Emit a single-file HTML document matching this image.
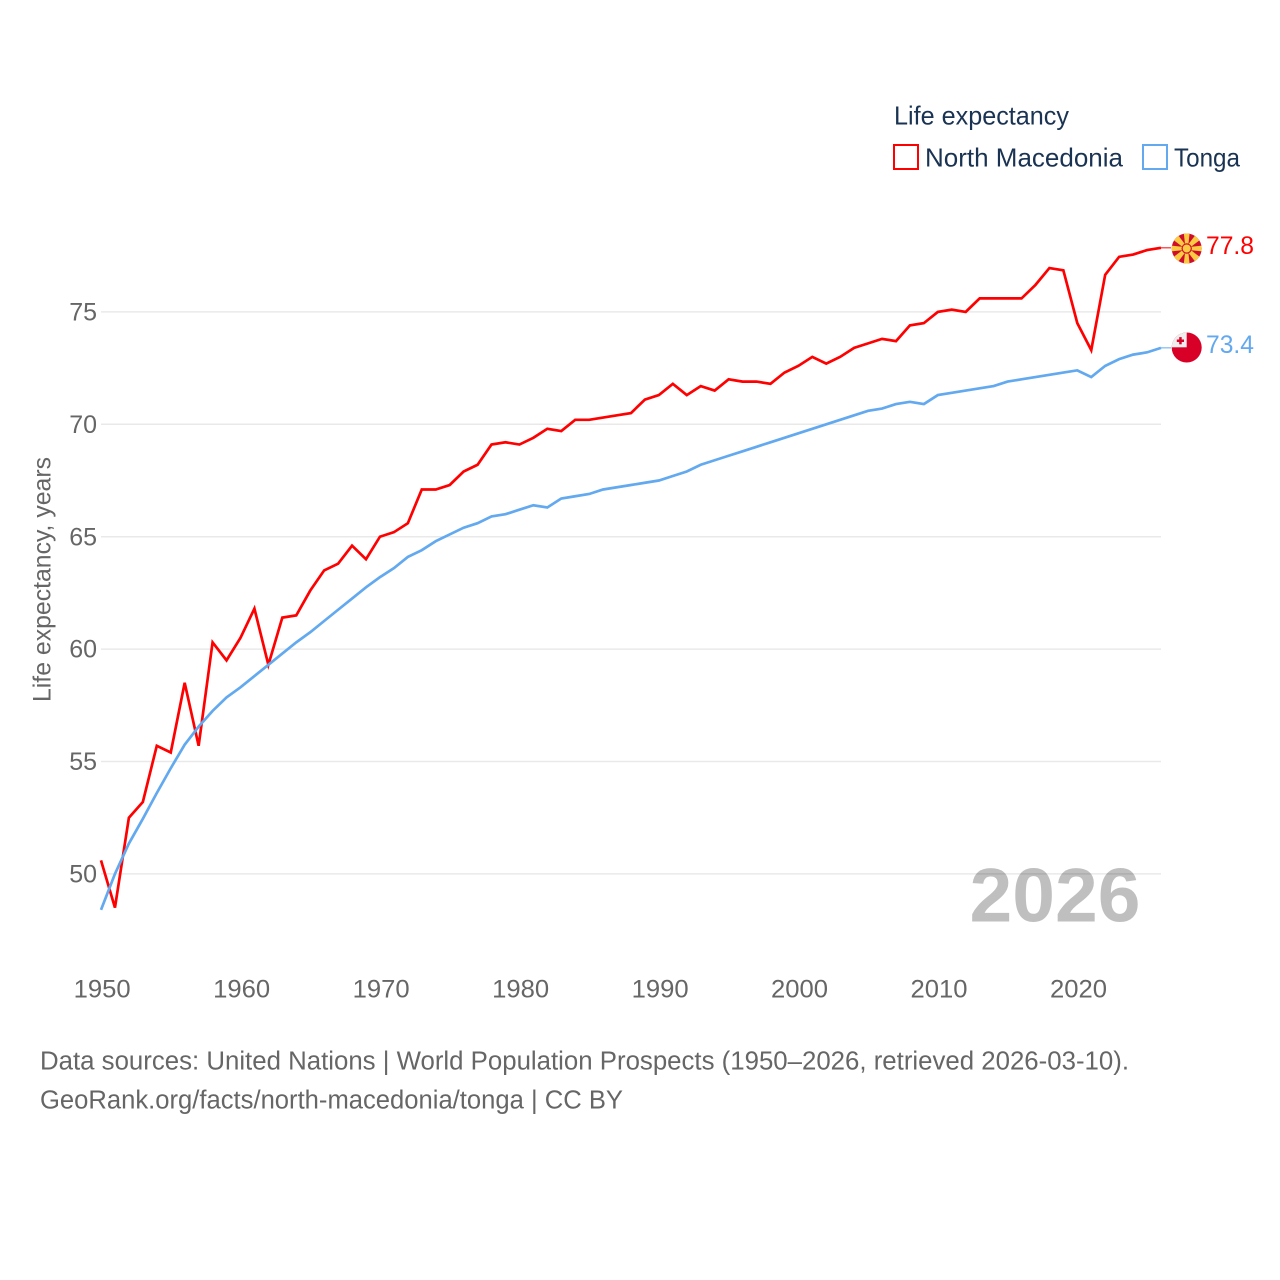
<!DOCTYPE html>
<html>
<head>
<meta charset="utf-8">
<title>Life expectancy: North Macedonia and Tonga</title>
<style>
html,body{margin:0;padding:0;background:#fff;}
svg{display:block;font-family:"Liberation Sans",sans-serif;}
</style>
</head>
<body>
<svg id="chart" xmlns="http://www.w3.org/2000/svg" width="1280" height="1280" viewBox="0 0 1280 1280">
  <rect width="1280" height="1280" fill="#fff"/>
  <g id="grid"></g>
  <g id="yticks"></g>
  <g id="xticks"></g>
  <text transform="translate(50.5,702) rotate(-90)" font-size="25" fill="#666" textLength="245" lengthAdjust="spacingAndGlyphs">Life expectancy, years</text>
  <g id="series"></g>
  <text x="969.5" y="921.5" font-size="76" font-weight="bold" fill="#000" fill-opacity="0.25" textLength="171" lengthAdjust="spacingAndGlyphs">2026</text>

  <g>
    <text x="894" y="124.5" font-size="26" fill="#1a3353" textLength="175" lengthAdjust="spacingAndGlyphs">Life expectancy</text>
    <g>
      <rect x="894" y="145" width="24" height="24" fill="#fff" stroke="#ff0000" stroke-width="2"/>
      <text x="925" y="166.5" font-size="26" fill="#1a3353" textLength="198" lengthAdjust="spacingAndGlyphs">North Macedonia</text>
    </g>
    <g>
      <rect x="1143" y="145" width="24" height="24" fill="#fff" stroke="#62a9ef" stroke-width="2"/>
      <text x="1174" y="166.5" font-size="26" fill="#1a3353" textLength="66" lengthAdjust="spacingAndGlyphs">Tonga</text>
    </g>
  </g>

  <defs>
    <clipPath id="clip-mk"><circle cx="1186.7" cy="248.5" r="15"/></clipPath>
    <clipPath id="clip-to"><circle cx="1186.7" cy="347.5" r="15"/></clipPath>
  </defs>
  <g id="flag-mk" clip-path="url(#clip-mk)">
    <rect x="1170" y="232" width="34" height="34" fill="#ce0d2d"/>
    <g fill="#f9ca42" transform="translate(1186.7,248.5)">
      <polygon points="-1.2,0 1.2,0 3,-16 -3,-16"/>
      <polygon points="-1.2,0 1.2,0 3.4,-16 -3.4,-16" transform="rotate(45)"/>
      <polygon points="-1.2,0 1.2,0 3,-16 -3,-16" transform="rotate(90)"/>
      <polygon points="-1.2,0 1.2,0 3.4,-16 -3.4,-16" transform="rotate(135)"/>
      <polygon points="-1.2,0 1.2,0 3,-16 -3,-16" transform="rotate(180)"/>
      <polygon points="-1.2,0 1.2,0 3.4,-16 -3.4,-16" transform="rotate(225)"/>
      <polygon points="-1.2,0 1.2,0 3,-16 -3,-16" transform="rotate(270)"/>
      <polygon points="-1.2,0 1.2,0 3.4,-16 -3.4,-16" transform="rotate(315)"/>
    </g>
    <circle cx="1186.7" cy="248.5" r="5.2" fill="#ce0d2d"/>
    <circle cx="1186.7" cy="248.5" r="4" fill="#f9ca42"/>
  </g>
  <g id="flag-to" clip-path="url(#clip-to)">
    <rect x="1170" y="331" width="34" height="34" fill="#d90027"/>
    <rect x="1170" y="331" width="16.7" height="16.3" fill="#eeeeee"/>
    <rect x="1176.8" y="339.5" width="7.2" height="2.5" fill="#d90027"/>
    <rect x="1179.2" y="337.1" width="2.5" height="7.2" fill="#d90027"/>
  </g>

  <text x="1206" y="254" font-size="25" fill="#ff0000" textLength="48" lengthAdjust="spacingAndGlyphs">77.8</text>
  <text x="1206" y="353" font-size="25" fill="#62a9ef" textLength="48" lengthAdjust="spacingAndGlyphs">73.4</text>

  <text x="40" y="1069.5" font-size="25.5" fill="#666" textLength="1089" lengthAdjust="spacingAndGlyphs">Data sources: United Nations | World Population Prospects (1950–2026, retrieved 2026-03-10).</text>
  <text x="40" y="1108.5" font-size="25.5" fill="#666" textLength="583" lengthAdjust="spacingAndGlyphs">GeoRank.org/facts/north-macedonia/tonga | CC BY</text>
</svg>
<script>
const startYear = 1950;
const northMacedonia = [50.6,48.5,52.5,53.2,55.7,55.4,58.5,55.7,60.3,59.5,60.5,61.8,59.3,61.4,61.5,62.6,63.5,63.8,64.6,64.0,65.0,65.2,65.6,67.1,67.1,67.3,67.9,68.2,69.1,69.2,69.1,69.4,69.8,69.7,70.2,70.2,70.3,70.4,70.5,71.1,71.3,71.8,71.3,71.7,71.5,72.0,71.9,71.9,71.8,72.3,72.6,73.0,72.7,73.0,73.4,73.6,73.8,73.7,74.4,74.5,75.0,75.1,75.0,75.6,75.6,75.6,75.6,76.2,76.95,76.85,74.5,73.3,76.65,77.45,77.55,77.75,77.85];
const tonga = [48.4,50.0,51.35,52.45,53.6,54.7,55.75,56.55,57.25,57.85,58.3,58.8,59.3,59.8,60.3,60.75,61.25,61.75,62.25,62.75,63.2,63.6,64.1,64.4,64.8,65.1,65.4,65.6,65.9,66.0,66.2,66.4,66.3,66.7,66.8,66.9,67.1,67.2,67.3,67.4,67.5,67.7,67.9,68.2,68.4,68.6,68.8,69.0,69.2,69.4,69.6,69.8,70.0,70.2,70.4,70.6,70.7,70.9,71.0,70.9,71.3,71.4,71.5,71.6,71.7,71.9,72.0,72.1,72.2,72.3,72.4,72.1,72.6,72.9,73.1,73.2,73.4];
const yTickValues = [50,55,60,65,70,75];
const xTickValues = [1950,1960,1970,1980,1990,2000,2010,2020];

const NS = 'http://www.w3.org/2000/svg';
function xScale(year){ return 101 + (year - 1950) * (1077.3 - 101) / 70; }
function yScale(v){ return 873.9 - (v - 50) * (873.9 - 311.9) / 25; }
function make(tag, attrs, parent){
  const el = document.createElementNS(NS, tag);
  for (const k in attrs) el.setAttribute(k, attrs[k]);
  parent.appendChild(el);
  return el;
}
const gridG = document.getElementById('grid');
const yG = document.getElementById('yticks');
const xG = document.getElementById('xticks');
const seriesG = document.getElementById('series');

yTickValues.forEach(function(v){
  const line = make('line', {x1:101, x2:1161, y1:yScale(v), y2:yScale(v), stroke:'#e9e9e9', 'stroke-width':1.5}, gridG);
  
  
  const t = make('text', {x:97, y:yScale(v) + 8.6, 'text-anchor':'end', 'font-size':25, fill:'#666'}, yG);
  
  
  t.textContent = v;
});
xTickValues.forEach(function(y){
  const t = make('text', {x:xScale(y) + 1.2, y:997.7, 'text-anchor':'middle', 'font-size':25, fill:'#666', textLength:57, lengthAdjust:'spacingAndGlyphs'}, xG);
  
  
  t.textContent = y;
});
function drawLine(values, color, name){
  const d = values.map(function(v, i){
    return (i ? 'L' : 'M') + xScale(startYear + i).toFixed(2) + ' ' + yScale(v).toFixed(2);
  }).join('');
  const p = make('path', {d:d, fill:'none', stroke:color, 'stroke-width':2.7, 'stroke-linejoin':'miter'}, seriesG);
  
  
  const lastIndex = values.length - 1;
  const stub = make('line', {x1:xScale(startYear + lastIndex), x2:1171, y1:yScale(values[lastIndex]), y2:yScale(values[lastIndex]), stroke:color, 'stroke-width':1}, seriesG);
  
  
}
drawLine(northMacedonia, '#ff0000', 'line-north-macedonia');
drawLine(tonga, '#62a9ef', 'line-tonga');
</script>
</body>
</html>
